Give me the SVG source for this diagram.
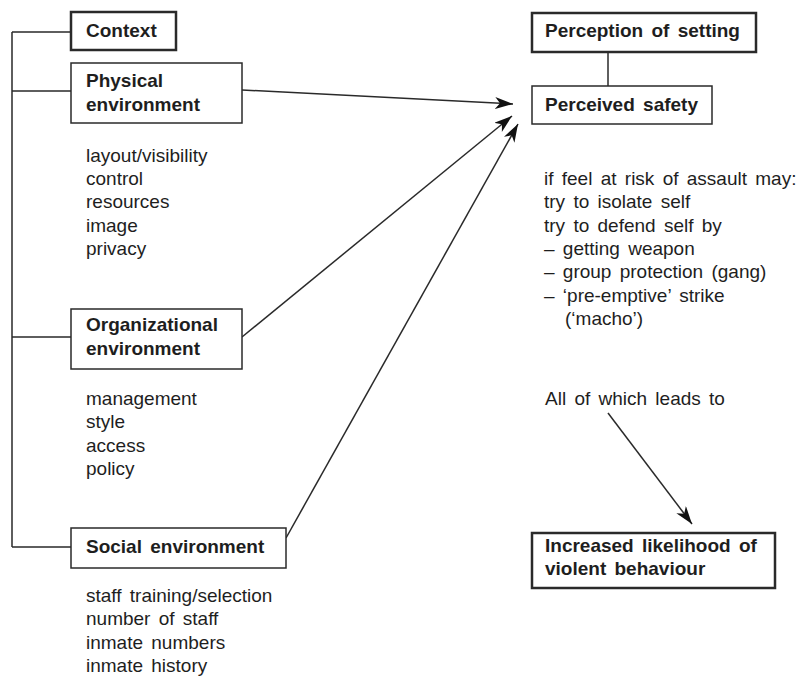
<svg xmlns="http://www.w3.org/2000/svg" width="802" height="680" viewBox="0 0 802 680">
<defs>
<style>
text{font-family:"Liberation Sans",Arial,sans-serif;font-size:19px;word-spacing:3px;fill:#1e1e1e}
.b{font-weight:bold}
.box{fill:#fff;stroke:#2a2a2a;stroke-width:1.5}
.thick{stroke-width:2.5}
.ln{fill:none;stroke:#2a2a2a;stroke-width:1.5}
</style>
<marker id="ah" markerUnits="userSpaceOnUse" markerWidth="20" markerHeight="14" refX="18" refY="6" orient="auto">
<path d="M0,0 L18,6 L0,12 L5,6 Z" fill="#111"/>
</marker>
</defs>
<rect width="802" height="680" fill="#fff"/>
<g id="connectors">
<path class="ln" d="M12,32 V547 M12,32 H71 M12,91 H71 M12,337 H71 M12,547 H71"/>
<path class="ln" d="M608,52 V86"/>
<line class="ln" x1="242" y1="90" x2="513" y2="104" marker-end="url(#ah)"/>
<line class="ln" x1="242" y1="337" x2="512" y2="116" marker-end="url(#ah)"/>
<line class="ln" x1="286" y1="538" x2="518" y2="124" marker-end="url(#ah)"/>
<line class="ln" x1="608" y1="413" x2="692" y2="524" marker-end="url(#ah)"/>
</g>
<g id="context">
<rect class="box thick" x="71" y="12" width="105" height="38"/>
<text class="b" x="86" y="37">Context</text>
</g>
<g id="physical">
<rect class="box" x="71" y="63" width="171" height="60"/>
<text class="b" x="86" y="87">Physical</text>
<text class="b" x="86" y="111">environment</text>
<text x="86" y="162">layout/visibility</text>
<text x="86" y="185">control</text>
<text x="86" y="208">resources</text>
<text x="86" y="232">image</text>
<text x="86" y="255">privacy</text>
</g>
<g id="organizational">
<rect class="box" x="71" y="309" width="171" height="60"/>
<text class="b" x="86" y="331">Organizational</text>
<text class="b" x="86" y="355">environment</text>
<text x="86" y="405">management</text>
<text x="86" y="428">style</text>
<text x="86" y="452">access</text>
<text x="86" y="475">policy</text>
</g>
<g id="social">
<rect class="box" x="71" y="528" width="215" height="40"/>
<text class="b" x="86" y="553">Social environment</text>
<text x="86" y="602">staff training/selection</text>
<text x="86" y="625">number of staff</text>
<text x="86" y="649">inmate numbers</text>
<text x="86" y="672">inmate history</text>
</g>
<g id="perception">
<rect class="box thick" x="532" y="13" width="224" height="39"/>
<text class="b" x="545" y="37">Perception of setting</text>
</g>
<g id="safety">
<rect class="box" x="532" y="86" width="180" height="38"/>
<text class="b" x="545" y="111">Perceived safety</text>
<text x="544" y="185">if feel at risk of assault may:</text>
<text x="544" y="208">try to isolate self</text>
<text x="544" y="232">try to defend self by</text>
<text x="544" y="255">– getting weapon</text>
<text x="544" y="278">– group protection (gang)</text>
<text x="544" y="302">– ‘pre-emptive’ strike</text>
<text x="565" y="325">(‘macho’)</text>
<text x="545" y="405">All of which leads to</text>
</g>
<g id="outcome">
<rect class="box thick" x="532" y="533" width="243" height="55"/>
<text class="b" x="545" y="552">Increased likelihood of</text>
<text class="b" x="545" y="575">violent behaviour</text>
</g>
</svg>
